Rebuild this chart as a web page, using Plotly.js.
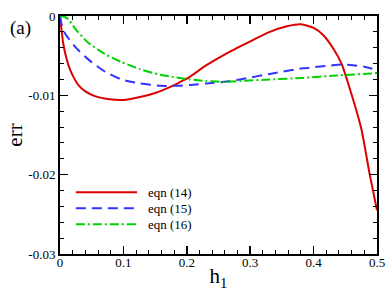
<!DOCTYPE html>
<html>
<head>
<meta charset="utf-8">
<script src="https://cdn.plot.ly/plotly-3.0.1.min.js"></script>
<style>html,body{margin:0;padding:0;background:#fff;}#chart{width:390px;height:294px;}</style>
</head>
<body>
<div id="chart"></div>
<script>
// eqn (14)
var h14 = [0, 0.005, 0.01, 0.016, 0.022, 0.029, 0.04, 0.055, 0.075, 0.1, 0.126, 0.15, 0.175, 0.19, 0.204, 0.231, 0.263, 0.305, 0.331, 0.358, 0.38, 0.4, 0.415, 0.431, 0.444, 0.4622, 0.4755, 0.4886, 0.5];
var e14 = [0, -0.0034, -0.0053, -0.0068, -0.0078, -0.0087, -0.0095, -0.0101, -0.01045, -0.01058, -0.0102, -0.0097, -0.0089, -0.0083, -0.0077, -0.0062, -0.0047, -0.003, -0.002, -0.0013, -0.00105, -0.0015, -0.0024, -0.0041, -0.006, -0.0105, -0.0143, -0.02, -0.0245];
// eqn (15)
var h15 = [0, 0.003, 0.008, 0.024, 0.045, 0.071, 0.097, 0.126, 0.158, 0.179, 0.205, 0.231, 0.26, 0.284, 0.331, 0.383, 0.42, 0.444, 0.462, 0.48, 0.5];
var e15 = [0, -0.0012, -0.0022, -0.0039, -0.0055, -0.007, -0.008, -0.0085, -0.0088, -0.0088, -0.0087, -0.0085, -0.0083, -0.008, -0.0073, -0.0066, -0.0063, -0.0061, -0.0062, -0.0064, -0.0068];
// eqn (16)
var h16 = [0, 0.007, 0.013, 0.026, 0.045, 0.071, 0.097, 0.126, 0.158, 0.179, 0.205, 0.231, 0.263, 0.284, 0.331, 0.383, 0.436, 0.5];
var e16 = [0, -0.0001, -0.0004, -0.0018, -0.0034, -0.0048, -0.0058, -0.0067, -0.0074, -0.0077, -0.008, -0.0082, -0.0083, -0.0082, -0.008, -0.0078, -0.0075, -0.0072];

var seriesNames = ['eqn (14)', 'eqn (15)', 'eqn (16)'];
var xTickVals = [0, 0.1, 0.2, 0.3, 0.4, 0.5];
var xTickText = ['0', '0.1', '0.2', '0.3', '0.4', '0.5'];
var yTickVals = [0, -0.01, -0.02, -0.03];
var yTickText = ['0', '-0.01', '-0.02', '-0.03'];

var colors = ['rgb(220,0,0)', 'rgb(51,51,255)', 'rgb(0,210,0)'];
var dashes = ['solid', '10px,6px', '9px,3px,2px,3px'];
var FONT = 'Liberation Serif';

var xs = [h14, h15, h16], ys = [e14, e15, e16];
var traces = xs.map(function (x, i) {
  return {
    x: x, y: ys[i], name: seriesNames[i], type: 'scatter', mode: 'lines',
    line: {color: colors[i], width: 2, dash: dashes[i], shape: 'spline', smoothing: 0.6},
    showlegend: false, hoverinfo: 'skip'
  };
});

var axisCommon = {
  showgrid: false, zeroline: false, showline: true, linecolor: '#000', linewidth: 2,
  mirror: 'ticks', ticks: 'inside', ticklen: 8, tickwidth: 1.5, tickcolor: '#000',
  tickfont: {family: FONT, size: 13, color: '#000'}, tickmode: 'array'
};

var xaxis = Object.assign({}, axisCommon, {
  range: [0, 0.5], tickvals: xTickVals, ticktext: xTickText, ticklabelstandoff: -5,
  minor: {ticks: 'inside', ticklen: 4, tickwidth: 1, tickcolor: '#000', tick0: 0, dtick: 0.02},
  title: {text: 'h<sub>1</sub>', font: {family: FONT, size: 21, color: '#000'}, standoff: 0}
});
var yaxis = Object.assign({}, axisCommon, {
  range: [-0.03, 0], tickvals: yTickVals, ticktext: yTickText,
  minor: {ticks: 'inside', ticklen: 4, tickwidth: 1, tickcolor: '#000', tick0: 0, dtick: 0.002},
  title: {text: 'err', font: {family: FONT, size: 21, color: '#000'}, standoff: 0}
});

// legend drawn as short line samples + labels in paper coordinates
var legY = [0.259, 0.192, 0.125];
var shapes = legY.map(function (y, i) {
  return {type: 'line', xref: 'paper', yref: 'paper', x0: 0.05, x1: 0.243, y0: y, y1: y,
          line: {color: colors[i], width: 2, dash: dashes[i]}};
});
var annotations = legY.map(function (y, i) {
  return {xref: 'paper', yref: 'paper', x: 0.272, y: y, xanchor: 'left', yanchor: 'middle',
          text: seriesNames[i], showarrow: false, font: {family: FONT, size: 13, color: '#000'}};
});
annotations.push({xref: 'paper', yref: 'paper', x: -0.126, y: 0.95, xanchor: 'center', yanchor: 'middle',
  text: '(a)', showarrow: false, font: {family: FONT, size: 19, color: '#000'}});

var layout = {
  width: 390, height: 294,
  margin: {l: 60, r: 13, t: 16, b: 40, pad: 0},
  paper_bgcolor: '#fff', plot_bgcolor: '#fff',
  font: {family: FONT, color: '#000'},
  xaxis: xaxis, yaxis: yaxis,
  shapes: shapes, annotations: annotations,
  showlegend: false
};

Plotly.newPlot('chart', traces, layout, {displayModeBar: false, staticPlot: true});
</script>
</body>
</html>
